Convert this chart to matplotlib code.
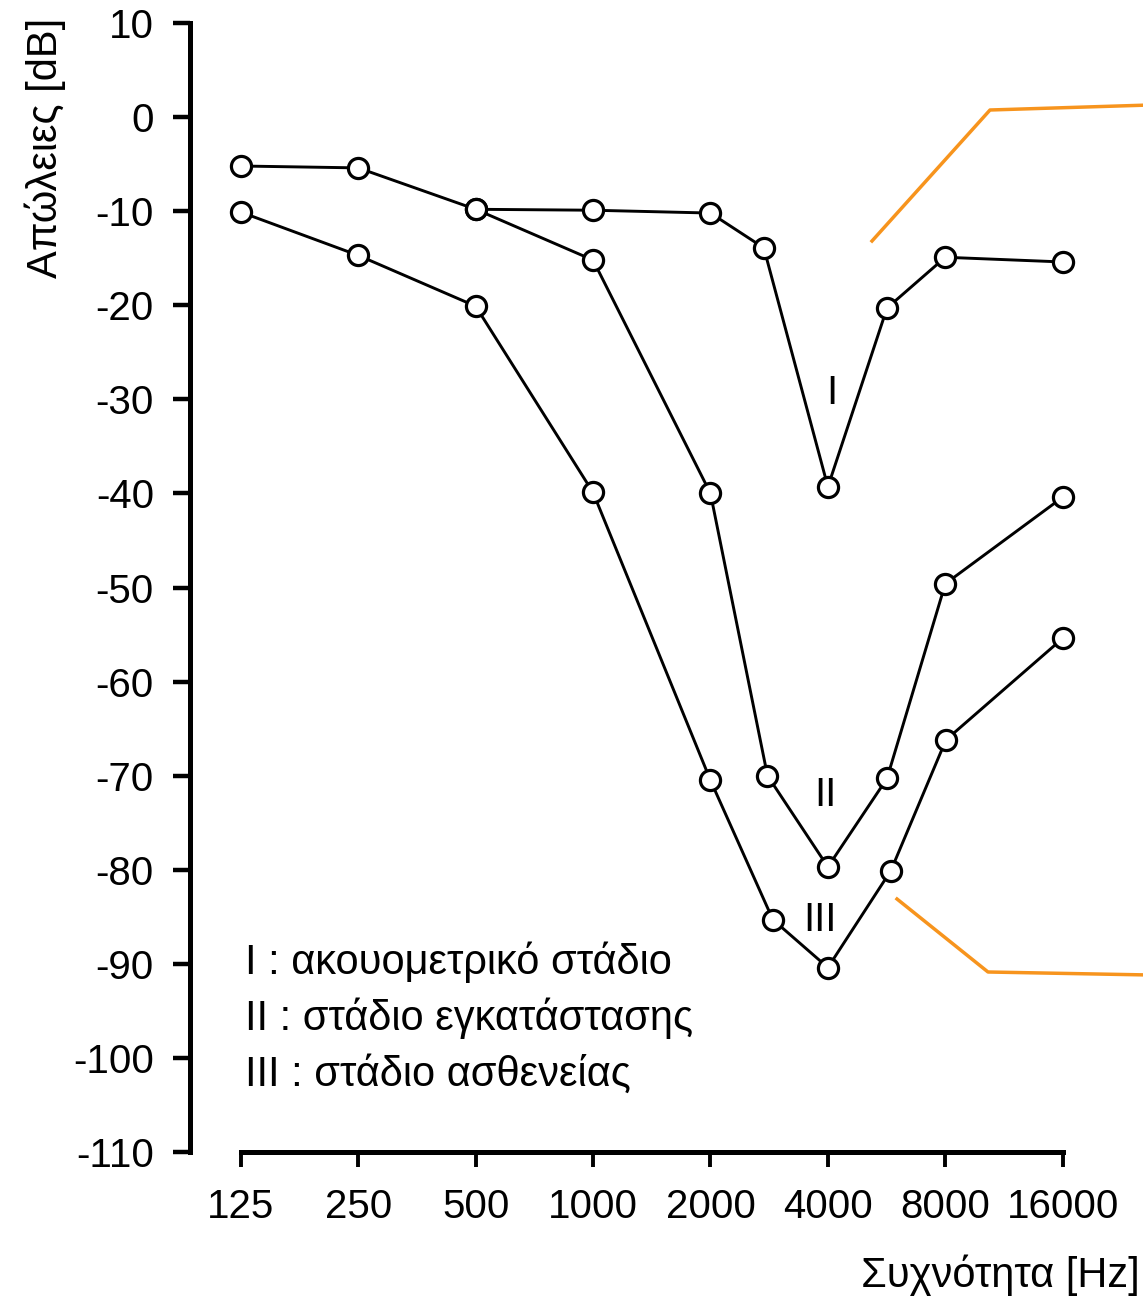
import matplotlib
matplotlib.use("Agg")
import matplotlib.pyplot as plt
from matplotlib.lines import Line2D

plt.rcParams['font.family'] = ['Liberation Sans', 'DejaVu Sans']
plt.rcParams['axes.unicode_minus'] = False

# frequencies [Hz] and losses [dB]
freq_I = [125, 250, 500, 1000, 2000, 2740, 4000, 5670, 8000, 16000]
loss_I = [-5.2, -5.4, -9.8, -9.9, -10.2, -13.9, -39.3, -20.3, -14.9, -15.4]

freq_II = [500, 1000, 2000, 2800, 4000, 5670, 8000, 16000]
loss_II = [-9.8, -15.2, -40.0, -70.0, -79.7, -70.3, -49.6, -40.4]

freq_III = [125, 250, 500, 1000, 2000, 2890, 4000, 5800, 8030, 16000]
loss_III = [-10.1, -14.7, -20.1, -39.9, -70.5, -85.3, -90.4, -80.1, -66.2, -55.4]

xticks = [125, 250, 500, 1000, 2000, 4000, 8000, 16000]
yticks = list(range(-110, 11, 10))

legend_lines = ["I : ακουομετρικό στάδιο",
                "II : στάδιο εγκατάστασης",
                "III : στάδιο ασθενείας"]

W, H = 1143, 1301
fig = plt.figure(figsize=(W / 100, H / 100), dpi=100)
ax = fig.add_axes([190 / W, 1 - 1152 / H, 1 - 190 / W, (1152 - 23) / H])

style = dict(color='black', lw=2.1, marker='o', ms=14.5, mfc='white',
             mec='black', mew=2.3, clip_on=False, zorder=3)
ax.plot(freq_I, loss_I, **style)
ax.plot(freq_II, loss_II, **style)
ax.plot(freq_III, loss_III, **style)

ax.set_xscale('log', base=2)
ax.set_xlim(92.6, 25700)
ax.set_ylim(-110, 10)
ax.set_xticks(xticks)
ax.set_xticklabels([str(f) for f in xticks])
ax.minorticks_off()
ax.set_yticks(yticks)

for s in ['top', 'right']:
    ax.spines[s].set_visible(False)
ax.spines['left'].set_linewidth(3.6)
ax.spines['bottom'].set_linewidth(3.6)
ax.spines['left'].set_bounds(-110, 10)
ax.spines['bottom'].set_bounds(125, 16000)
ax.spines['bottom'].set_capstyle('projecting')
ax.spines['left'].set_capstyle('projecting')

ax.tick_params(axis='y', length=12, width=3.2, pad=14, labelsize=29)
ax.tick_params(axis='x', length=11, width=2.8, pad=15, labelsize=29)

# curve labels
ax.text(4100, -29.3, "I", fontsize=29, ha='center', va='center')
ax.text(3950, -72.1, "II", fontsize=29, ha='center', va='center')
ax.text(3813, -85.3, "III", fontsize=29, ha='center', va='center')

for i, line in enumerate(legend_lines):
    ax.text(128, -89.8 - 6.0 * i, line, fontsize=30, ha='left', va='center')

fig.text(45 / W, 1 - 18 / H, "Απώλειες [dB]", rotation=90, fontsize=30,
         ha='center', va='top')
fig.text(1140 / W, 1 - 1275 / H, "Συχνότητα [Hz]", fontsize=30,
         ha='right', va='center')

# orange guide lines running off the right edge
orange = '#f7941d'
for pts in ([(872, 241), (990, 110), (1150, 105)],
            [(897, 899), (988, 972), (1150, 975)]):
    xs = [p[0] / W for p in pts]
    ys = [1 - p[1] / H for p in pts]
    fig.add_artist(Line2D(xs, ys, color=orange, lw=2.5,
                          transform=fig.transFigure))

fig.savefig("out.png", dpi=100)
